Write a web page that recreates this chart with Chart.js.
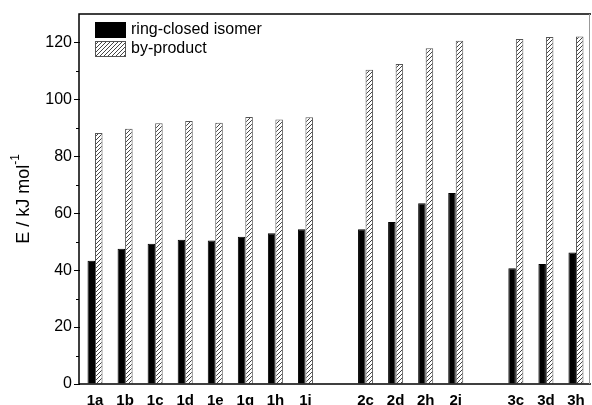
<!DOCTYPE html>
<html>
<head>
<meta charset="utf-8">
<script src="https://cdn.jsdelivr.net/npm/chart.js@4.4.1/dist/chart.umd.min.js"></script>
<style>
  html, body { margin: 0; padding: 0; background: #fff; }
  #wrap { width: 592px; height: 405px; }
</style>
</head>
<body>
<div id="wrap"><canvas id="chart"></canvas></div>
<script>
// empty labels are the gaps between the three series of compounds
const compounds = ['1a', '1b', '1c', '1d', '1e', '1g', '1h', '1i', '', '2c', '2d', '2h', '2i', '', '3c', '3d', '3h'];
const ringClosed = [43.3, 47.5, 49.3, 50.7, 50.4, 51.7, 53.0, 54.4, null, 54.4, 56.9, 63.5, 67.1, null, 40.7, 42.2, 46.2];
const byProduct = [88.2, 89.7, 91.6, 92.4, 91.8, 93.8, 92.9, 93.7, null, 110.4, 112.4, 118.0, 120.6, null, 121.2, 121.9, 122.1];
const yMajorTicks = [0, 20, 40, 60, 80, 100, 120];
const yMinorTicks = [10, 30, 50, 70, 90, 110];

const FONT = '"Liberation Sans", Arial, Helvetica, sans-serif';

function makeHatch() {
    const c = document.createElement('canvas');
    c.width = 4;
    c.height = 4;
    const g = c.getContext('2d');
    g.fillStyle = '#fff';
    g.fillRect(0, 0, 4, 4);
    g.strokeStyle = '#444';
    g.lineWidth = 1;
    g.beginPath();
    g.moveTo(0, 4); g.lineTo(4, 0);
    g.moveTo(-1, 1); g.lineTo(1, -1);
    g.moveTo(3, 5); g.lineTo(5, 3);
    g.stroke();
    return g.createPattern(c, 'repeat');
}
const hatch = makeHatch();

// frame, minor ticks, y title and legend box
const extras = {
    id: 'extras',
    afterDraw(chart) {
        const ctx = chart.ctx;
        const a = chart.chartArea;
        const y = chart.scales.y;
        ctx.save();

        ctx.strokeStyle = '#000';
        ctx.lineWidth = 1.5;
        ctx.beginPath();
        ctx.moveTo(a.right, a.top);
        ctx.lineTo(a.left - 1, a.top);
        ctx.lineTo(a.left - 1, a.bottom);
        ctx.lineTo(a.right, a.bottom);
        ctx.stroke();
        ctx.strokeStyle = '#999';
        ctx.lineWidth = 1;
        ctx.beginPath();
        ctx.moveTo(a.right - 1.5, a.top);
        ctx.lineTo(a.right - 1.5, a.bottom);
        ctx.stroke();

        ctx.strokeStyle = '#000';
        ctx.lineWidth = 1;
        yMinorTicks.forEach(v => {
            const py = Math.round(y.getPixelForValue(v)) + 0.5;
            ctx.beginPath();
            ctx.moveTo(a.left - 4, py);
            ctx.lineTo(a.left - 1, py);
            ctx.stroke();
        });

        // y axis title with superscript
        ctx.translate(24, (a.top + a.bottom) / 2);
        ctx.rotate(-Math.PI / 2);
        ctx.fillStyle = '#000';
        ctx.textBaseline = 'middle';
        ctx.font = '18px ' + FONT;
        const main = 'E / kJ mol';
        ctx.font = '12px ' + FONT;
        const supW = ctx.measureText('-1').width;
        ctx.font = '18px ' + FONT;
        const mainW = ctx.measureText(main).width;
        const x0 = -(mainW + supW) / 2;
        ctx.textAlign = 'left';
        ctx.fillText(main, x0, 0);
        ctx.font = '12px ' + FONT;
        ctx.fillText('-1', x0 + mainW, -8);
        ctx.setTransform(1, 0, 0, 1, 0, 0);

        // legend
        const lx = a.left + 15;
        let ly = a.top + 8;
        ctx.font = '16px ' + FONT;
        ctx.textBaseline = 'middle';
        chart.data.datasets.forEach(ds => {
            ctx.fillStyle = ds.backgroundColor;
            ctx.fillRect(lx, ly, 31, 16);
            ctx.strokeStyle = ds.borderColor;
            ctx.lineWidth = 1;
            ctx.strokeRect(lx + 0.5, ly + 0.5, 30, 15);
            ctx.fillStyle = '#000';
            ctx.fillText(ds.label, lx + 36, ly + 8);
            ly += 19;
        });
        ctx.restore();
    }
};

new Chart(document.getElementById('chart'), {
    type: 'bar',
    data: {
        labels: compounds,
        datasets: [
            {
                label: 'ring-closed isomer',
                data: ringClosed,
                backgroundColor: '#000',
                borderColor: '#000',
                borderWidth: 1
            },
            {
                label: 'by-product',
                data: byProduct,
                backgroundColor: hatch,
                borderColor: '#555',
                borderWidth: 1
            }
        ]
    },
    options: {
        responsive: true,
        maintainAspectRatio: false,
        animation: false,
        layout: { padding: { top: 14, right: 1, left: 0, bottom: 0 } },
        datasets: { bar: { barPercentage: 1.0, categoryPercentage: 0.5 } },
        plugins: {
            legend: { display: false },
            tooltip: { enabled: false }
        },
        scales: {
            x: {
                grid: { display: false },
                border: { display: false },
                ticks: {
                    color: '#000',
                    font: { family: FONT, size: 15, weight: 'bold' },
                    padding: 0,
                    maxRotation: 0,
                    autoSkip: false
                },
                afterFit: s => { s.height = 21; }
            },
            y: {
                min: 0,
                max: 130,
                grid: { drawOnChartArea: false, tickLength: 6, color: '#000' },
                border: { display: false },
                ticks: {
                    color: '#000',
                    font: { family: FONT, size: 16 },
                    padding: 2
                },
                afterBuildTicks: s => { s.ticks = yMajorTicks.map(v => ({ value: v })); },
                afterFit: s => { s.width = 80; }
            }
        }
    },
    plugins: [extras]
});
</script>
</body>
</html>
